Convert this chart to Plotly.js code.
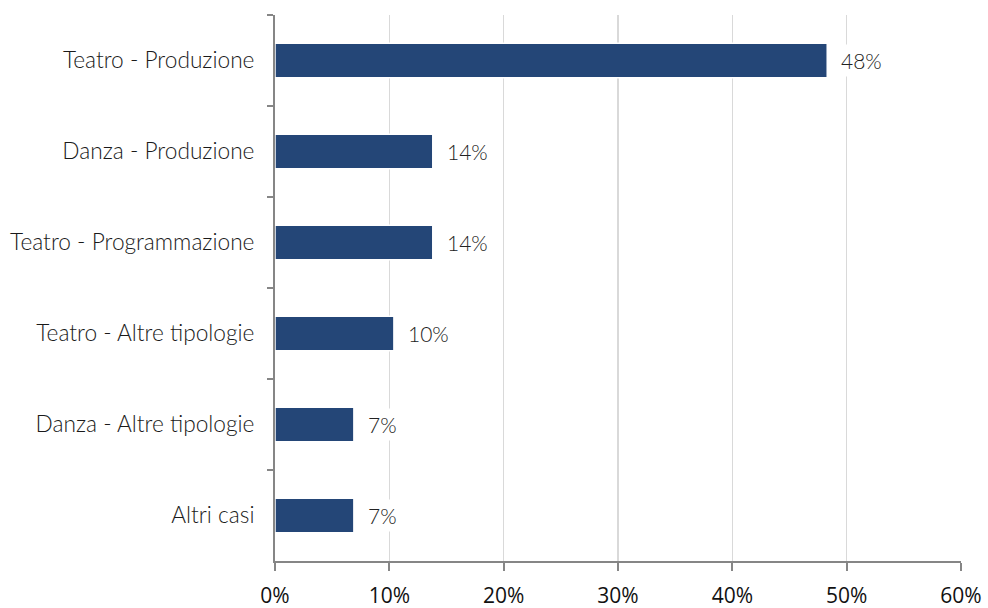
<!DOCTYPE html>
<html>
<head>
<meta charset="utf-8">
<script src="https://cdn.plot.ly/plotly-3.0.1.min.js"></script>
<style>html,body{margin:0;padding:0;background:#fff;}#chart{width:988px;height:608px;}</style>
</head>
<body>
<div id="chart"></div>
<script>
const categories = ["Teatro - Produzione", "Danza - Produzione", "Teatro - Programmazione", "Teatro - Altre tipologie", "Danza - Altre tipologie", "Altri casi"];
const values = [48.3, 13.8, 13.8, 10.4, 6.9, 6.9];
const labels = ["48%", "14%", "14%", "10%", "7%", "7%"];
const xTickVals = [0, 10, 20, 30, 40, 50, 60];
const xTickText = ["0%", "10%", "20%", "30%", "40%", "50%", "60%"];

const trace = {
  type: "bar",
  orientation: "h",
  y: categories,
  x: values,
  marker: {color: "#244677", line: {color: "#ffffff", width: 1.5}},
  hoverinfo: "none"
};

const annotations = categories.map((c, i) => ({
  x: values[i], y: c, xref: "x", yref: "y",
  text: labels[i], showarrow: false,
  xanchor: "left", xshift: 10,
  bgcolor: "#ffffff", borderpad: 3,
  font: {family: "Lato, 'Open Sans', sans-serif", size: 21, weight: 300, color: "#222222"}
}));

const layout = {
  width: 988, height: 608,
  margin: {l: 275, r: 27, t: 15, b: 47},
  paper_bgcolor: "#ffffff", plot_bgcolor: "#ffffff",
  showlegend: false,
  bargap: 0.62,
  xaxis: {
    range: [0, 60], tickvals: xTickVals, ticktext: xTickText,
    showgrid: true, gridcolor: "#d9d9d9", gridwidth: 1.5,
    showline: true, linecolor: "#868686", linewidth: 2,
    ticks: "outside", ticklen: 8, tickcolor: "#868686", tickwidth: 2,
    zeroline: false, ticklabelstandoff: 7,
    tickfont: {family: "'Open Sans', 'Noto Sans', sans-serif", size: 21, color: "#111111"}
  },
  yaxis: {
    type: "category", autorange: "reversed",
    showline: true, linecolor: "#868686", linewidth: 2,
    ticks: "outside", ticklen: 6, tickcolor: "#868686", tickwidth: 2,
    tickson: "boundaries", showgrid: false,
    ticklabelstandoff: 14,
    tickfont: {family: "Lato, 'Open Sans', sans-serif", size: 22.7, weight: 300, color: "#1a1a1a"}
  },
  annotations: annotations
};

Plotly.newPlot("chart", [trace], layout, {displayModeBar: false, staticPlot: true});
</script>
</body>
</html>
